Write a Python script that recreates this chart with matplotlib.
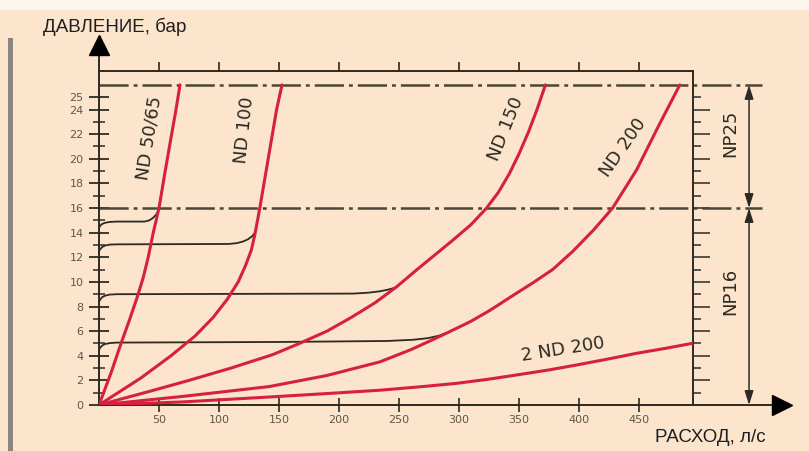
import matplotlib
matplotlib.use('Agg')
import matplotlib.pyplot as plt
from matplotlib.patches import Rectangle

plt.rcParams['lines.scale_dashes'] = False

# %% data (flow in l/s, pressure in bar)
nd50_q = [0, 10, 18, 25, 32, 37, 41, 45, 50, 55, 60, 64, 67.5]
nd50_p = [0, 2.6, 4.9, 6.8, 8.8, 10.4, 12.0, 13.9, 16, 18.9, 21.7, 23.9, 26]
nd100_q = [0, 35, 60, 80, 95, 107, 116, 122, 127, 130, 134, 141, 148, 152.5]
nd100_p = [0, 2.2, 4.0, 5.6, 7.1, 8.6, 10.0, 11.3, 12.6, 13.9, 16, 20, 24, 26]
nd150_q = [0, 40, 75, 110, 145, 167, 190, 210, 230, 248, 265, 280, 295, 310, 323,
           333, 342, 350, 358, 365, 372]
nd150_p = [0, 1.05, 2.0, 3.0, 4.1, 5.0, 6.0, 7.1, 8.3, 9.6, 11.0, 12.2, 13.4, 14.65, 16.0,
           17.3, 18.8, 20.4, 22.2, 24.0, 26]
nd200_q = [0, 70, 142, 190, 234, 260, 278, 291, 310, 326, 345, 362, 378, 395, 412, 428,
           448, 467, 484]
nd200_p = [0, 0.7, 1.5, 2.4, 3.5, 4.5, 5.3, 5.9, 6.8, 7.7, 8.9, 9.95, 11.0, 12.5, 14.2, 16,
           19.1, 22.8, 26]
nd200x2_q = [0, 70, 142, 190, 234, 270, 298, 325, 348, 375, 398, 425, 448, 472, 494]
nd200x2_p = [0, 0.25, 0.65, 0.93, 1.2, 1.5, 1.76, 2.1, 2.44, 2.85, 3.25, 3.75, 4.2, 4.6, 5.0]

# black setting lines
set1_q = [0, 1, 2.5, 5, 9, 15, 38, 42, 45, 47.5, 49, 50]
set1_p = [14.4, 14.55, 14.7, 14.8, 14.87, 14.9, 14.9, 15.0, 15.2, 15.45, 15.7, 16]
set2_q = [0, 1, 2.5, 5, 9, 15, 108, 115, 120, 124, 127.5, 130]
set2_p = [12.5, 12.65, 12.82, 12.95, 13.03, 13.05, 13.08, 13.15, 13.28, 13.45, 13.7, 14.0]
set3_q = [0, 1, 2.5, 5, 9, 15, 212, 224, 233, 240, 245, 248]
set3_p = [8.4, 8.55, 8.75, 8.88, 8.97, 9.0, 9.05, 9.12, 9.22, 9.35, 9.48, 9.6]
set4_q = [0, 1, 2.5, 5, 9, 15, 150, 240, 262, 274, 283, 291]
set4_p = [4.5, 4.65, 4.82, 4.95, 5.03, 5.07, 5.12, 5.2, 5.3, 5.43, 5.62, 5.9]

np16, np25 = 16, 26
x_ticks = [50, 100, 150, 200, 250, 300, 350, 400, 450]
y_ticks = [0, 2, 4, 6, 8, 10, 12, 14, 16, 18, 20, 22, 24, 25]

bg = '#fde4cd'
red = '#d5213f'
ink = '#2c2a22'
dash = '#4a4634'

fig = plt.figure(figsize=(8.09, 4.51), dpi=100, facecolor=bg)
ax = fig.add_axes([99/809, 46/451, 594/809, 334/451], facecolor=bg)
ax.set_xlim(0, 495)
ax.set_ylim(0, 27.13)
for s in ax.spines.values():
    s.set_color(ink)
    s.set_linewidth(1.4)

# ticks
ax.set_xticks(x_ticks, [str(v) for v in x_ticks])
ax.set_yticks(y_ticks, [str(v) for v in y_ticks])
ax.set_yticks(range(1, 24, 2), minor=True)
ax.tick_params(axis='x', direction='inout', length=10, width=1.2, color=ink,
               labelsize=8, labelcolor='#5e5848', pad=2)
ax.tick_params(axis='y', which='major', direction='inout', length=14, width=1.3,
               color=ink, labelsize=8, labelcolor='#5e5848', pad=4)
ax.tick_params(axis='y', which='minor', direction='inout', length=8, width=1.1, color=ink)

top = ax.secondary_xaxis('top')
top.set_xticks(x_ticks, [])
top.tick_params(direction='out', length=6.5, width=1.2, color=ink)
top.spines['top'].set_visible(False)

right = ax.secondary_yaxis('right')
right.set_yticks(range(0, 26, 2), [])
right.set_yticks(range(1, 26, 2), minor=True)
right.tick_params(which='major', direction='out', length=12, width=1.1, color=ink)
right.tick_params(which='minor', direction='out', length=6, width=1.1, color=ink)
right.spines['right'].set_visible(False)

# curves
kw = dict(color=red, lw=2.2, solid_capstyle='round', solid_joinstyle='round', zorder=4)
ax.plot(nd50_q, nd50_p, **kw)
ax.plot(nd100_q, nd100_p, **kw)
ax.plot(nd150_q, nd150_p, **kw)
ax.plot(nd200_q, nd200_p, **kw)
ax.plot(nd200x2_q, nd200x2_p, **kw)

for q, p in [(set1_q, set1_p), (set2_q, set2_p), (set3_q, set3_p), (set4_q, set4_p)]:
    ax.plot(q, p, color=ink, lw=1.3, solid_joinstyle='round', zorder=3)

# dash-dot pressure limits
for yv in (np16, np25):
    ax.plot([0, 552.5], [yv, yv], color=dash, lw=1.8, clip_on=False,
            dashes=(21, 3.6, 2.8, 3.6), zorder=2)

# axis arrows
ax.plot([0, 0], [27.13, 29.0], color=ink, lw=1.4, clip_on=False)
ax.plot([0], [29.25], marker='^', ms=14, color='black', clip_on=False)
ax.plot([495, 560], [0, 0], color=ink, lw=1.4, clip_on=False)
ax.plot([569], [0], marker='>', ms=15, color='black', clip_on=False)

# NP16 / NP25 dimension arrows
arr = dict(arrowstyle='<|-|>,head_length=0.7,head_width=0.22', color=ink, lw=1.1,
           shrinkA=0, shrinkB=0, mutation_scale=12)
ax.annotate('', xy=(541.7, np25), xytext=(541.7, np16), arrowprops=arr, annotation_clip=False)
ax.annotate('', xy=(541.7, np16), xytext=(541.7, 0), arrowprops=arr, annotation_clip=False)

lab = dict(color=ink, fontsize=13, ha='center', va='center', rotation_mode='anchor', zorder=5)
ax.text(42.0, 21.7, 'ND 50/65', rotation=81, **lab)
ax.text(121.5, 22.3, 'ND 100', rotation=84, **lab)
ax.text(339, 22.4, 'ND 150', rotation=68, **lab)
ax.text(437, 20.9, 'ND 200', rotation=55, **lab)
ax.text(386.7, 4.5, '2 ND 200', rotation=9, **lab)
ax.text(526, 22.1, 'NP25', rotation=90, clip_on=False, **lab)
ax.text(526, 9.2, 'NP16', rotation=90, clip_on=False, **lab)

fig.text(43/809, 1 - 27/451, 'ДАВЛЕНИЕ, бар', family='Liberation Sans', fontsize=13.5,
         color='#1e1e1e', ha='left', va='center')
fig.text(766/809, 1 - 437/451, 'РАСХОД, л/с', family='Liberation Sans', fontsize=13.5,
         color='#1e1e1e', ha='right', va='center')

# page decoration: grey edge and light top strip
fig.add_artist(Rectangle((8/809, 0), 5/809, (451 - 38)/451, transform=fig.transFigure,
                         color='#8a8580', lw=0))
fig.add_artist(Rectangle((0, 1 - 10/451), 1, 10/451, transform=fig.transFigure,
                         color='#fdf6ee', lw=0))

fig.savefig('out.png', dpi=100, facecolor=bg)
